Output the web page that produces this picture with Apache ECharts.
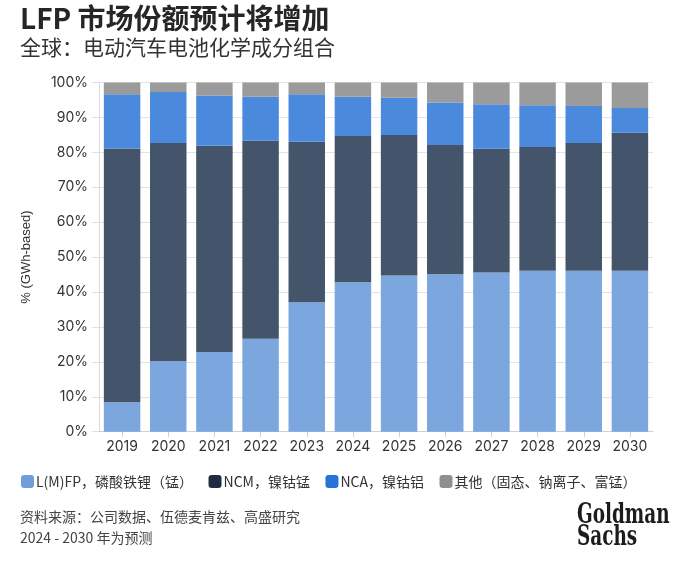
<!DOCTYPE html>
<html>
<head>
<meta charset="utf-8">
<script src="https://cdn.jsdelivr.net/npm/echarts@6/dist/echarts.min.js"></script>
<style>
html,body{margin:0;padding:0;background:#fff;}
#c{width:700px;height:566px;}
</style>
</head>
<body>
<div id="c"></div>
<script>
const years = ['2019','2020','2021','2022','2023','2024','2025','2026','2027','2028','2029','2030'];
const lfp   = [8.4, 20.2, 22.8, 26.6, 37.1, 42.8, 44.7, 45.1, 45.6, 46.1, 46.1, 46.1];
const ncm   = [72.7, 62.5, 59.1, 56.7, 45.9, 41.9, 40.3, 37.0, 35.4, 35.4, 36.6, 39.5];
const nca   = [15.5, 14.6, 14.4, 12.6, 13.6, 11.2, 10.6, 12.2, 12.8, 12.0, 10.6, 7.1];
const other = [3.4, 2.7, 3.7, 4.1, 3.4, 4.1, 4.4, 5.7, 6.2, 6.5, 6.7, 7.3];
const seriesNames = ['L(M)FP，磷酸铁锂（锰）', 'NCM，镍钴锰', 'NCA，镍钴铝', '其他（固态、钠离子、富锰）'];
const yTicks = [0, 10, 20, 30, 40, 50, 60, 70, 80, 90, 100];

const barColors = ['#7BA6DE', '#44546B', '#4A89DC', '#9B9B9B'];
const legendColors = ['#6F9ED9', '#1F2C42', '#2873D6', '#8F8F8F'];
const cjk = '"Noto Sans CJK SC", "Noto Sans", sans-serif';
const num = 'Inter, "Noto Sans", sans-serif';
const logoFont = 'bold 28px "DejaVu Serif Condensed", "DejaVu Serif", serif';

const chart = echarts.init(document.getElementById('c'), null, {renderer: 'canvas'});
const data = [lfp, ncm, nca, other];
chart.setOption({
  animation: false,
  backgroundColor: '#fff',
  grid: {left: 99, right: 47, top: 82.5, bottom: 134.3, containLabel: false},
  legend: {
    left: 16, top: 469.5, itemWidth: 13, itemHeight: 13, itemGap: 15.5,
    icon: 'roundRect',
    textStyle: {fontFamily: cjk, fontSize: 14, color: '#333', padding: [0,0,0,-3]},
    data: seriesNames.map((n, i) => ({name: n, itemStyle: {color: legendColors[i]}}))
  },
  xAxis: {
    type: 'category', data: years,
    axisLine: {lineStyle: {color: '#d0d0d0'}},
    axisTick: {show: true, alignWithLabel: true, length: 5, lineStyle: {color: '#d0d0d0'}},
    axisLabel: {fontFamily: num, fontSize: 14, color: '#333', margin: 8}
  },
  yAxis: {
    type: 'value', min: yTicks[0], max: yTicks[yTicks.length-1], interval: 10,
    name: '% (GWh-based)', nameLocation: 'middle', nameRotate: 90, nameGap: 66,
    nameTextStyle: {fontFamily: '"Liberation Sans", Arial, sans-serif', fontSize: 13, color: '#333'},
    axisLine: {show: true, lineStyle: {color: '#dcdcdc'}},
    axisTick: {show: true, length: 7, lineStyle: {color: '#e0e0e0'}},
    splitLine: {lineStyle: {color: '#e4e4e4'}},
    axisLabel: {formatter: '{value}%', fontFamily: num, fontSize: 14, color: '#333', margin: 11}
  },
  series: data.map((d, i) => ({
    name: seriesNames[i], type: 'bar', stack: 'total', data: d,
    barCategoryGap: '21%',
    itemStyle: {color: barColors[i]}
  })),
  graphic: [
    {type: 'text', left: 20, top: 4, style: {text: 'LFP 市场份额预计将增加', font: 'bold 28px ' + cjk, fill: '#262626'}},
    {type: 'text', left: 20, top: 37, style: {text: '全球：电动汽车电池化学成分组合', font: '21px ' + cjk, fill: '#333'}},
    {type: 'text', left: 20, top: 510, style: {text: '资料来源：公司数据、伍德麦肯兹、高盛研究', font: '14px ' + cjk, fill: '#444'}},
    {type: 'text', left: 20, top: 531, style: {text: '2024 - 2030 年为预测', font: '14px ' + cjk, fill: '#444'}},
    {type: 'text', x: 577, y: 502, scaleX: 0.73, style: {text: 'Goldman', font: logoFont, fill: '#1c1c1c'}},
    {type: 'text', x: 577, y: 524, scaleX: 0.73, style: {text: 'Sachs', font: logoFont, fill: '#1c1c1c'}}
  ]
});
</script>
</body>
</html>
